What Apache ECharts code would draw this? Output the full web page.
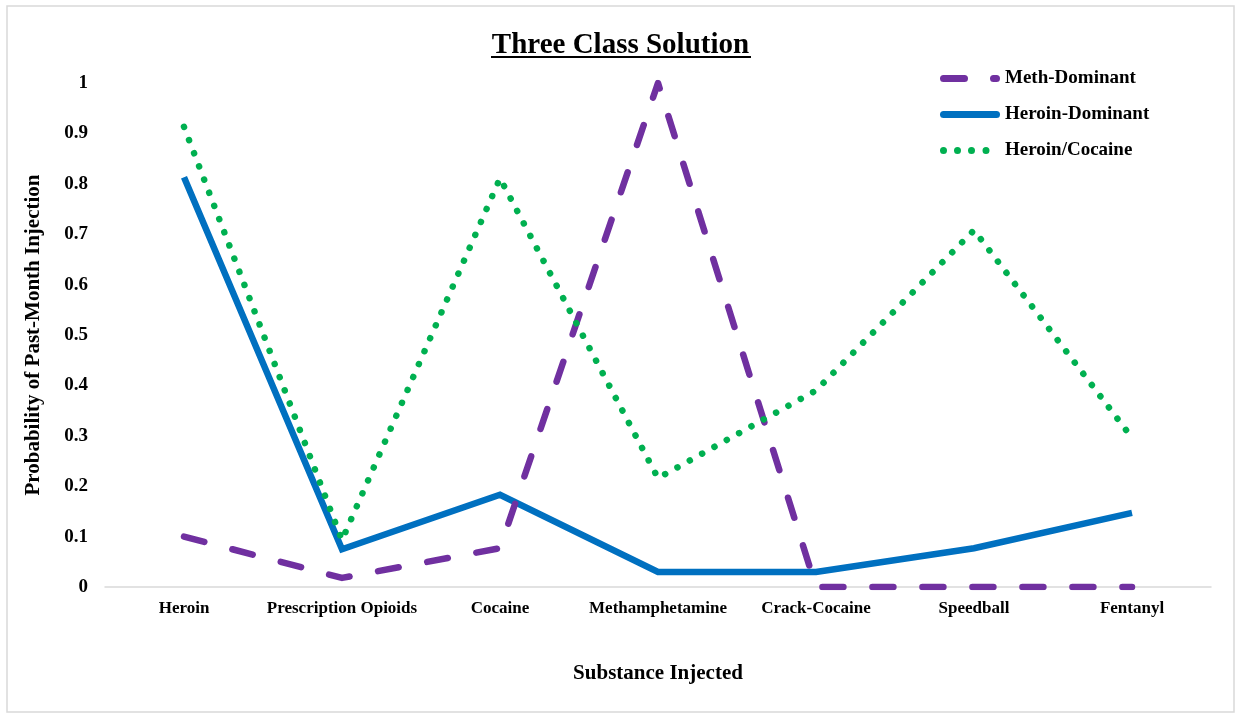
<!DOCTYPE html>
<html><head><meta charset="utf-8">
<script src="https://cdn.jsdelivr.net/npm/echarts@6/dist/echarts.min.js"></script>
<style>html,body{margin:0;padding:0;background:#fff}#c{width:1241px;height:718px}</style>
</head><body><div id="c"></div>
<script>
const categories = ["Heroin","Prescription Opioids","Cocaine","Methamphetamine","Crack-Cocaine","Speedball","Fentanyl"];
const methDominant = [0.10, 0.018, 0.077, 1.0, 0, 0, 0];
const heroinDominant = [0.813, 0.075, 0.183, 0.03, 0.03, 0.077, 0.147];
const heroinCocaine = [0.913, 0.093, 0.811, 0.216, 0.39, 0.708, 0.296];
const yTicks = [0,0.1,0.2,0.3,0.4,0.5,0.6,0.7,0.8,0.9,1];

const FONT = "'Liberation Serif','Times New Roman',serif";
function pill(x0,x1){return 'M'+(x0+3.5)+' 0 L'+(x1-3.5)+' 0 A3.5 3.5 0 0 1 '+(x1-3.5)+' 7 L'+(x0+3.5)+' 7 A3.5 3.5 0 0 1 '+(x0+3.5)+' 0 Z ';}
function dot(cx){return 'M'+(cx-3.5)+' 3.5 A3.5 3.5 0 1 0 '+(cx+3.5)+' 3.5 A3.5 3.5 0 1 0 '+(cx-3.5)+' 3.5 Z ';}
const iconDash = 'path://'+pill(0,28)+pill(50,60);
const iconSolid = 'path://'+pill(0,60);
const iconDot = 'path://'+dot(3.5)+dot(17.5)+dot(31.5)+dot(46)+'M60 3.5';

const chart = echarts.init(document.getElementById('c'));
chart.setOption({
  backgroundColor:'#fff',
  animation:false,
  title:{text:'Three Class Solution',left:'center',top:26,
    textStyle:{fontFamily:FONT,fontWeight:'bold',fontSize:29,color:'#000'}},
  graphic:[
    {type:'rect',shape:{x:7,y:6,width:1227,height:706},style:{fill:'none',stroke:'#d9d9d9',lineWidth:1.5},silent:true},
    {type:'line',shape:{x1:491,y1:57,x2:751,y2:57},style:{stroke:'#000',lineWidth:2},silent:true}
  ],
  legend:{orient:'vertical',left:935,top:64,itemWidth:60,itemHeight:7,itemGap:17,
    textStyle:{fontFamily:FONT,fontWeight:'bold',fontSize:19,color:'#000'},
    itemStyle:{borderWidth:0},
    data:[{name:'Meth-Dominant',icon:iconDash},{name:'Heroin-Dominant',icon:iconSolid},{name:'Heroin/Cocaine',icon:iconDot}]},
  grid:{left:105,right:30,top:83,bottom:131,containLabel:false},
  xAxis:{type:'category',data:categories,boundaryGap:true,
    name:'Substance Injected',nameLocation:'middle',nameGap:76,
    nameTextStyle:{fontFamily:FONT,fontWeight:'bold',fontSize:21,color:'#000'},
    axisLine:{lineStyle:{color:'#d9d9d9',width:1.5}},axisTick:{show:false},
    axisLabel:{fontFamily:FONT,fontWeight:'bold',fontSize:17,color:'#000',margin:13,interval:0}},
  yAxis:{type:'value',min:0,max:1,interval:0.1,
    name:'Probability of Past-Month Injection',nameLocation:'middle',nameGap:61,
    nameTextStyle:{fontFamily:FONT,fontWeight:'bold',fontSize:21,color:'#000'},
    axisLine:{show:false},axisTick:{show:false},splitLine:{show:false},
    axisLabel:{fontFamily:FONT,fontWeight:'bold',fontSize:19,color:'#000',margin:17,
      formatter:v=>{const t=yTicks.find(x=>Math.abs(x-v)<1e-9);return t===undefined?'':String(t);}}},
  series:[
    {name:'Meth-Dominant',type:'line',data:methDominant,symbol:'none',z:3,
      itemStyle:{color:'#7030A0'},
      lineStyle:{color:'#7030A0',width:6.5,type:[21,29],cap:'round',join:'round'}},
    {name:'Heroin-Dominant',type:'line',data:heroinDominant,symbol:'none',z:2,
      itemStyle:{color:'#0070C0'},
      lineStyle:{color:'#0070C0',width:6.5,type:'solid',cap:'butt',join:'miter'}},
    {name:'Heroin/Cocaine',type:'line',data:heroinCocaine,symbol:'none',z:4,
      itemStyle:{color:'#00B050'},
      lineStyle:{color:'#00B050',width:6.5,type:[0.1,14],cap:'round'}}
  ]
});
</script></body></html>
